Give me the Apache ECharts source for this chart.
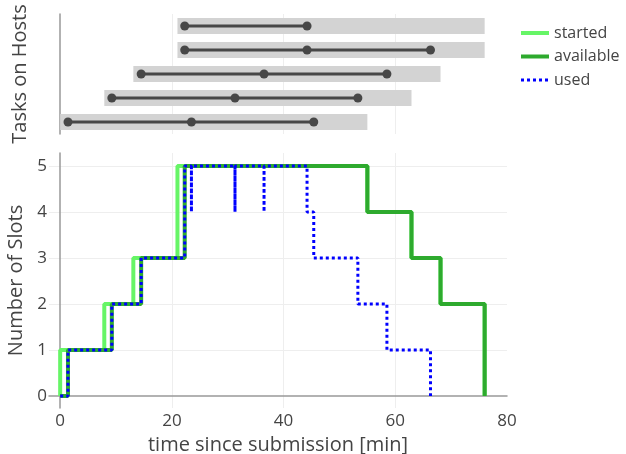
<!DOCTYPE html>
<html><head><meta charset="utf-8">
<script src="https://cdn.jsdelivr.net/npm/echarts@6/dist/echarts.min.js"></script>
<style>html,body{margin:0;padding:0;background:#fff}#c{width:626px;height:454px}</style>
</head><body><div id="c"></div>
<script>
// ---- data ----
const hostNames = ['host 1', 'host 2', 'host 3', 'host 4', 'host 5'];
const hostStart = [0, 7.9, 13.1, 21.0, 21.0];
const hostEnd = [55, 62.9, 68.1, 76, 76];
const hostTasks = [
  [1.4, 23.5, 45.4],
  [9.25, 31.3, 53.3],
  [14.5, 36.5, 58.5],
  [22.3, 44.2, 66.3],
  [22.3, 44.2]
];
const startedT = [0, 0, 7.9, 13.1, 21.0, 55, 62.9, 68.1, 76];
const startedN = [0, 1, 2, 3, 5, 4, 3, 2, 0];
const availableT = [0, 1.4, 9.25, 14.5, 22.3, 55, 62.9, 68.1, 76];
const availableN = [0, 1, 2, 3, 5, 4, 3, 2, 0];
const usedT = [0, 1.4, 9.25, 14.5, 22.3, 23.5, 23.5, 31.3, 31.3, 36.5, 36.5, 44.2, 45.4, 53.3, 58.5, 66.3];
const usedN = [0, 1, 2, 3, 5, 4, 5, 4, 5, 4, 5, 4, 3, 2, 1, 0];
const xTickLabels = [0, 20, 40, 60, 80];
const xGridValues = [20, 40, 60];
const yTickLabels = [0, 1, 2, 3, 4, 5];
const yGridValues = [1, 2, 3, 4, 5];

// ---- chart ----
const FONT = 'Open Sans';
const TXT = '#444';
const AXIS = '#999';
const GRIDC = '#eeeeee';
const C_STARTED = '#66f566';
const C_AVAIL = '#2eaa2e';
const C_USED = '#0000ff';
const chart = echarts.init(document.getElementById('c'), null, {renderer: 'canvas'});

const zip = (a, b) => a.map((v, i) => [v, b[i]]);

const series = [];
series.push({
  type: 'bar', xAxisIndex: 0, yAxisIndex: 0, stack: 'host', barWidth: 16,
  itemStyle: {color: 'rgba(0,0,0,0)'}, silent: true,
  data: hostStart
});
series.push({
  type: 'bar', xAxisIndex: 0, yAxisIndex: 0, stack: 'host', barWidth: 16,
  itemStyle: {color: '#d3d3d3'}, silent: true,
  data: hostEnd.map((e, i) => e - hostStart[i])
});
hostTasks.forEach((tasks, i) => {
  series.push({
    type: 'line', xAxisIndex: 0, yAxisIndex: 0, z: 5,
    symbol: 'circle', symbolSize: 9,
    itemStyle: {color: '#474747'},
    lineStyle: {color: '#474747', width: 3},
    data: tasks.map(t => [t, i])
  });
});
series.push({
  name: 'started', type: 'line', xAxisIndex: 1, yAxisIndex: 1, step: 'end',
  symbol: 'none', lineStyle: {color: C_STARTED, width: 4}, itemStyle: {color: C_STARTED},
  data: zip(startedT, startedN)
});
series.push({
  name: 'available', type: 'line', xAxisIndex: 1, yAxisIndex: 1, step: 'end',
  symbol: 'none', lineStyle: {color: C_AVAIL, width: 4}, itemStyle: {color: C_AVAIL},
  data: zip(availableT, availableN)
});
series.push({
  name: 'used', type: 'line', xAxisIndex: 1, yAxisIndex: 1, step: 'end',
  symbol: 'none', lineStyle: {color: C_USED, width: 3, type: [3, 3]}, itemStyle: {color: C_USED},
  data: zip(usedT, usedN)
});

chart.setOption({
  animation: false,
  textStyle: {fontFamily: FONT, color: TXT},
  legend: {
    orient: 'vertical', left: 519, top: 25, padding: 0,
    itemWidth: 28, itemHeight: 14, itemGap: 7.5,
    itemStyle: {opacity: 0},
    textStyle: {fontFamily: FONT, fontSize: 16, color: TXT},
    data: [
      {name: 'started', lineStyle: {width: 4, color: C_STARTED}},
      {name: 'available', lineStyle: {width: 4, color: C_AVAIL}},
      {name: 'used', lineStyle: {width: 3, color: C_USED, type: [3, 3]}}
    ]
  },
  grid: [
    {left: 49, right: 119, top: 14, height: 120, outerBoundsMode: 'none', containLabel: false},
    {left: 49, right: 119, top: 153, bottom: 46, outerBoundsMode: 'none', containLabel: false}
  ],
  xAxis: [
    {
      type: 'value', gridIndex: 0, min: -2, max: 80,
      axisLine: {show: false}, axisTick: {show: false, customValues: xGridValues},
      axisLabel: {show: false},
      splitLine: {show: true, lineStyle: {color: GRIDC, width: 1}}
    },
    {
      type: 'value', gridIndex: 1, min: -2, max: 80,
      axisLine: {show: true, onZero: true, lineStyle: {color: AXIS, width: 1.5}},
      axisTick: {show: false, customValues: xGridValues},
      axisLabel: {customValues: xTickLabels, fontFamily: FONT, fontSize: 17, color: TXT, margin: 5},
      splitLine: {show: true, lineStyle: {color: GRIDC, width: 1}},
      name: 'time since submission [min]', nameLocation: 'middle', nameGap: 23,
      nameTextStyle: {fontFamily: FONT, fontSize: 20, color: TXT}
    }
  ],
  yAxis: [
    {
      type: 'category', gridIndex: 0, data: hostNames,
      axisLine: {show: true, onZero: true, lineStyle: {color: AXIS, width: 1.5}},
      axisTick: {show: false}, axisLabel: {show: false}, splitLine: {show: false},
      name: 'Tasks on Hosts', nameLocation: 'middle', nameGap: 19,
      nameTextStyle: {fontFamily: FONT, fontSize: 20, color: TXT}
    },
    {
      type: 'value', gridIndex: 1, min: -0.26, max: 5.28,
      axisLine: {show: true, onZero: true, lineStyle: {color: AXIS, width: 1.5}},
      axisTick: {show: false, customValues: yGridValues},
      axisLabel: {customValues: yTickLabels, fontFamily: FONT, fontSize: 17, color: TXT, margin: 2},
      splitLine: {show: true, lineStyle: {color: GRIDC, width: 1}},
      name: 'Number of Slots', nameLocation: 'middle', nameGap: 19,
      nameTextStyle: {fontFamily: FONT, fontSize: 20, color: TXT}
    }
  ],
  series: series
});
</script>
</body></html>
